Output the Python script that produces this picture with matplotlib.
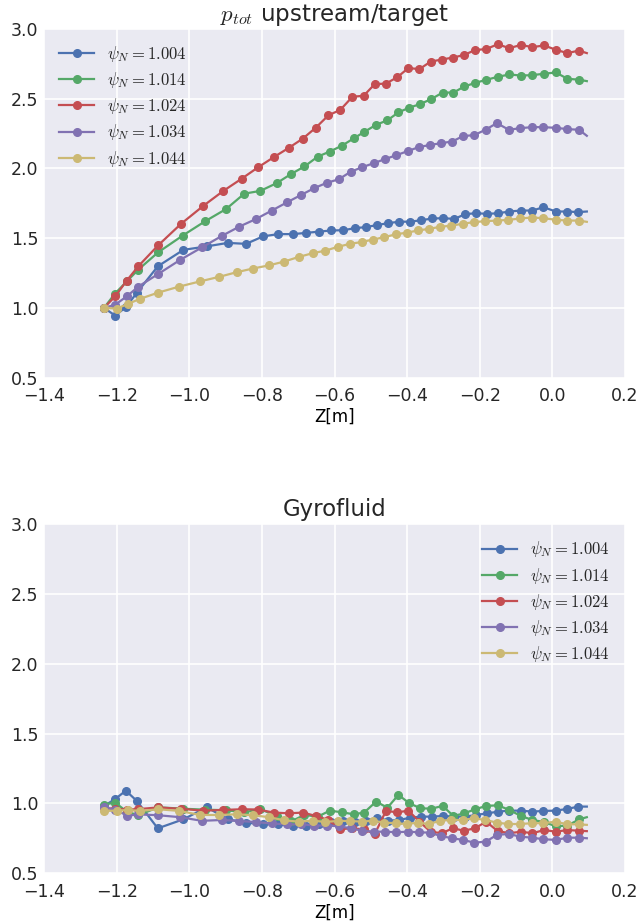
import numpy as np
import matplotlib
matplotlib.use("Agg")
import matplotlib.pyplot as plt

# Z positions [m] along each flux surface
z_1004 = [-1.235, -1.2044, -1.1749, -1.1446, -1.0868, -1.0163, -0.9518, -0.8939, -0.8435, -0.7967,
          -0.7545, -0.7140, -0.6774, -0.6416, -0.6094, -0.5755, -0.5433, -0.5138, -0.4826, -0.4515,
          -0.4212, -0.3909, -0.3606, -0.3303, -0.3000, -0.2697, -0.2402, -0.2099, -0.1788, -0.1485,
          -0.1182, -0.0868, -0.0548, -0.0245, 0.0096, 0.0399, 0.0719, 0.095]
z_1014 = [-1.235, -1.2044, -1.1722, -1.1402, -1.0860, -1.0185, -0.9565, -0.8986, -0.8485, -0.8041,
          -0.7590, -0.7196, -0.6829, -0.6460, -0.6129, -0.5791, -0.5474, -0.5185, -0.4854, -0.4543,
          -0.4240, -0.3939, -0.3634, -0.3331, -0.3022, -0.2725, -0.2421, -0.2118, -0.1815, -0.1499,
          -0.1185, -0.0868, -0.0548, -0.0234, 0.0096, 0.0416, 0.0744, 0.095]
z_1024 = [-1.235, -1.2036, -1.1722, -1.1402, -1.0860, -1.0226, -0.9612, -0.9061, -0.8554, -0.8105,
          -0.7672, -0.7256, -0.6873, -0.6512, -0.6168, -0.5840, -0.5507, -0.5198, -0.4890, -0.4584,
          -0.4267, -0.3964, -0.3661, -0.3353, -0.3044, -0.2741, -0.2438, -0.2127, -0.1824, -0.1507,
          -0.1185, -0.0868, -0.0548, -0.0226, 0.0096, 0.0416, 0.0730, 0.095]
z_1034 = [-1.235, -1.2044, -1.1705, -1.1402, -1.0851, -1.0253, -0.9656, -0.9105, -0.8620, -0.8165,
          -0.7727, -0.7306, -0.6912, -0.6556, -0.6212, -0.5882, -0.5556, -0.5245, -0.4917, -0.4606,
          -0.4295, -0.3986, -0.3678, -0.3375, -0.3069, -0.2760, -0.2457, -0.2149, -0.1829, -0.1529,
          -0.1198, -0.0879, -0.0556, -0.0245, 0.0096, 0.0416, 0.0738, 0.095]
z_1044 = [-1.2347, -1.1997, -1.1678, -1.1355, -1.0851, -1.0273, -0.9702, -0.9171, -0.8691, -0.8251,
          -0.7802, -0.7388, -0.6989, -0.6603, -0.6259, -0.5915, -0.5584, -0.5253, -0.4945, -0.4628,
          -0.4317, -0.4000, -0.3697, -0.3394, -0.3091, -0.2780, -0.2471, -0.2163, -0.1843, -0.1529,
          -0.1209, -0.0887, -0.0565, -0.0245, 0.0091, 0.0408, 0.0730, 0.095]

# p_tot upstream/target ratio
ratio_1004 = [1.0, 0.945, 1.004, 1.108, 1.298, 1.416, 1.441, 1.466, 1.459, 1.513,
              1.529, 1.529, 1.538, 1.547, 1.555, 1.557, 1.572, 1.579, 1.594, 1.608,
              1.618, 1.618, 1.629, 1.641, 1.643, 1.638, 1.672, 1.679, 1.674, 1.679,
              1.691, 1.698, 1.698, 1.722, 1.691, 1.691, 1.687, 1.691]
ratio_1014 = [1.0, 1.103, 1.19, 1.275, 1.398, 1.518, 1.621, 1.709, 1.819, 1.839,
              1.895, 1.96, 2.014, 2.085, 2.121, 2.164, 2.215, 2.261, 2.313, 2.345,
              2.402, 2.436, 2.462, 2.498, 2.544, 2.544, 2.588, 2.614, 2.636, 2.657,
              2.674, 2.666, 2.669, 2.679, 2.688, 2.643, 2.636, 2.626]
ratio_1024 = [1.0, 1.084, 1.196, 1.299, 1.448, 1.603, 1.732, 1.839, 1.927, 2.008,
              2.081, 2.148, 2.214, 2.293, 2.381, 2.42, 2.514, 2.521, 2.605, 2.608,
              2.655, 2.72, 2.712, 2.766, 2.781, 2.795, 2.813, 2.849, 2.856, 2.89,
              2.863, 2.885, 2.87, 2.882, 2.851, 2.827, 2.845, 2.827]
ratio_1034 = [1.0, 1.022, 1.086, 1.153, 1.244, 1.344, 1.433, 1.516, 1.583, 1.637,
              1.698, 1.757, 1.811, 1.859, 1.897, 1.922, 1.976, 2.008, 2.038, 2.067,
              2.095, 2.124, 2.153, 2.168, 2.181, 2.193, 2.232, 2.239, 2.279, 2.325,
              2.277, 2.289, 2.296, 2.296, 2.291, 2.282, 2.277, 2.234]
ratio_1044 = [1.0, 0.995, 1.03, 1.065, 1.11, 1.153, 1.19, 1.223, 1.256, 1.282,
              1.305, 1.332, 1.365, 1.392, 1.41, 1.437, 1.459, 1.472, 1.49, 1.507,
              1.527, 1.54, 1.555, 1.567, 1.581, 1.59, 1.603, 1.615, 1.622, 1.626,
              1.631, 1.641, 1.648, 1.643, 1.632, 1.626, 1.626, 1.617]

# Gyrofluid ratio
gyro_1004 = [0.98, 1.03, 1.09, 1.017, 0.82, 0.885, 0.971, 0.885, 0.861, 0.849,
             0.849, 0.837, 0.839, 0.851, 0.868, 0.873, 0.868, 0.875, 0.897, 0.875,
             0.88, 0.897, 0.904, 0.904, 0.909, 0.904, 0.904, 0.916, 0.928, 0.94,
             0.947, 0.947, 0.94, 0.945, 0.947, 0.959, 0.976, 0.976]
gyro_1014 = [0.99, 1.005, 0.94, 0.914, 0.971, 0.961, 0.954, 0.95, 0.935, 0.957,
             0.909, 0.87, 0.916, 0.904, 0.947, 0.935, 0.921, 0.933, 1.012, 0.968,
             1.06, 1.0, 0.964, 0.961, 0.981, 0.909, 0.928, 0.958, 0.981, 0.985,
             0.952, 0.909, 0.88, 0.866, 0.835, 0.84, 0.885, 0.9]
gyro_1024 = [0.965, 0.96, 0.955, 0.958, 0.97, 0.96, 0.947, 0.952, 0.957, 0.955,
             0.933, 0.928, 0.933, 0.909, 0.88, 0.815, 0.82, 0.813, 0.78, 0.945,
             0.935, 0.947, 0.868, 0.796, 0.785, 0.821, 0.803, 0.821, 0.868, 0.801,
             0.785, 0.796, 0.785, 0.808, 0.796, 0.808, 0.803, 0.80]
gyro_1034 = [0.97, 0.955, 0.91, 0.92, 0.914, 0.90, 0.874, 0.88, 0.873, 0.865,
             0.855, 0.848, 0.85, 0.84, 0.84, 0.835, 0.821, 0.803, 0.796, 0.796,
             0.792, 0.796, 0.792, 0.789, 0.765, 0.749, 0.737, 0.717, 0.725, 0.773,
             0.78, 0.76, 0.753, 0.742, 0.737, 0.753, 0.753, 0.749]
gyro_1044 = [0.945, 0.947, 0.952, 0.945, 0.957, 0.945, 0.916, 0.916, 0.921, 0.914,
             0.90, 0.878, 0.868, 0.875, 0.866, 0.873, 0.873, 0.868, 0.875, 0.861,
             0.857, 0.851, 0.861, 0.851, 0.875, 0.88, 0.88, 0.892, 0.88, 0.861,
             0.851, 0.851, 0.857, 0.857, 0.868, 0.849, 0.849, 0.845]

psi_labels = ["1.004", "1.014", "1.024", "1.034", "1.044"]
colors = ["#4C72B0", "#55A868", "#C44E52", "#8172B2", "#CCB974"]

z_all = [z_1004, z_1014, z_1024, z_1034, z_1044]
ratio_all = [ratio_1004, ratio_1014, ratio_1024, ratio_1034, ratio_1044]
gyro_all = [gyro_1004, gyro_1014, gyro_1024, gyro_1034, gyro_1044]

plt.rcParams["mathtext.fontset"] = "cm"
plt.rcParams["font.family"] = "DejaVu Sans"
plt.rcParams["axes.facecolor"] = "#EAEAF2"
plt.rcParams["grid.color"] = "white"
plt.rcParams["grid.linewidth"] = 1.2
plt.rcParams["text.color"] = "#262626"
plt.rcParams["xtick.color"] = "#262626"
plt.rcParams["ytick.color"] = "#262626"

fig, (ax1, ax2) = plt.subplots(2, 1, figsize=(6.39, 9.23), dpi=100)
fig.subplots_adjust(left=0.069, right=0.978, top=0.9686, bottom=0.0542, hspace=0.421)

def draw(ax, ydata, title, legend_loc):
    for z, y, lab, c in zip(z_all, ydata, psi_labels, colors):
        ax.plot(z, y, color=c, lw=1.6, marker="o", markersize=5.5,
                markevery=list(range(len(z) - 1)),
                label=r"$\psi_N = " + lab + "$")
    ax.set_xlim(-1.4, 0.2)
    ax.set_ylim(0.5, 3.0)
    ax.set_xticks(np.arange(-1.4, 0.21, 0.2))
    ax.set_yticks(np.arange(0.5, 3.01, 0.5))
    ax.grid(True)
    ax.set_axisbelow(True)
    for s in ax.spines.values():
        s.set_visible(False)
    ax.tick_params(labelsize=12.5, length=0)
    ax.tick_params(axis="x", pad=7)
    ax.tick_params(axis="y", pad=4)
    ax.set_xlabel("Z[m]", fontsize=12, labelpad=2)
    ax.set_title(title, fontsize=16.5, pad=6)
    ax.legend(loc=legend_loc, frameon=False, fontsize=12, handlelength=2.1,
              labelspacing=0.37, borderaxespad=0.5)

draw(ax1, ratio_all, r"$p_{tot}$ upstream/target", "upper left")
draw(ax2, gyro_all, "Gyrofluid", "upper right")

plt.savefig("out.png", dpi=100)
plt.close()
